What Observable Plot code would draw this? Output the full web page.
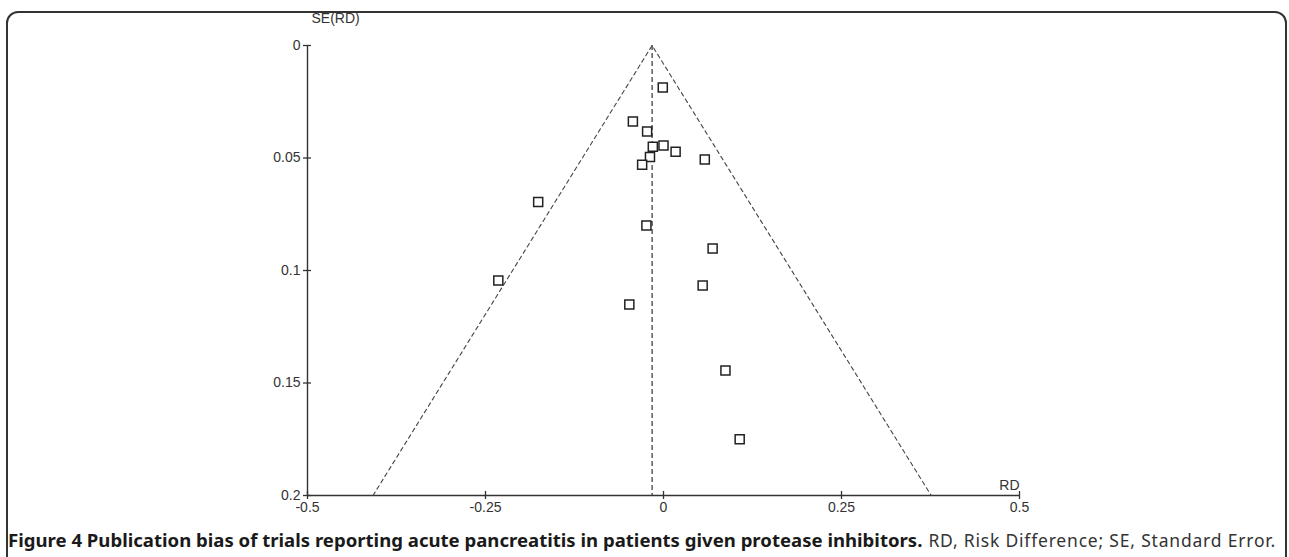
<!DOCTYPE html>
<html><head><meta charset="utf-8">
<script src="https://cdn.jsdelivr.net/npm/d3@7"></script>
<script src="https://cdn.jsdelivr.net/npm/@observablehq/plot@0.6"></script>
<style>
html,body{margin:0;padding:0;background:#fff;width:1289px;height:557px;overflow:hidden;}
#frame{position:absolute;left:6px;top:11px;width:1281px;height:640px;border:2px solid #333;border-radius:12px;box-sizing:border-box;}
#chart{position:absolute;left:0;top:0;}
#caption{position:absolute;left:0;top:520px;}
</style></head><body>
<div id="frame"></div>
<div id="chart"></div>
<svg id="caption" width="1289" height="37" xmlns="http://www.w3.org/2000/svg">
  <text id="capBold" x="8" y="27" font-family="Noto Sans, Open Sans, sans-serif" font-weight="700" font-size="17.5" fill="#1a1a1a" textLength="892" lengthAdjust="spacingAndGlyphs">Figure 4 Publication bias of trials reporting acute pancreatitis in patients given protease inhibitors.</text>
  <text id="capReg" x="1276" y="27" text-anchor="end" font-family="Noto Sans, Open Sans, sans-serif" font-weight="400" font-size="17.5" letter-spacing="0.8" fill="#333">RD, Risk Difference; SE, Standard Error.</text>
</svg>
<script>
// Study estimates (risk difference) and standard errors
const rd = [-0.001, -0.043, -0.023, -0.015, 0.000, 0.017, -0.019, -0.030, 0.058, -0.176, -0.024, -0.232, -0.048, 0.055, 0.069, 0.087, 0.107];
const se = [0.0187, 0.0338, 0.0382, 0.0450, 0.0444, 0.0472, 0.0496, 0.0530, 0.0507, 0.0696, 0.0800, 0.1044, 0.1151, 0.1067, 0.0902, 0.1444, 0.1750];
// pooled estimate and funnel (pseudo 95% limits)
const pooled = [-0.016];
const funnelRD = [-0.408, -0.016, 0.376];
const funnelSE = [0.2, 0, 0.2];
// axes
const xTicks = [-0.5, -0.25, 0, 0.25, 0.5];
const yTicks = [0, 0.05, 0.1, 0.15, 0.2];
const xDomain = [-0.5, 0.5];
const yDomain = [0, 0.2];
const yLabel = ["SE(RD)"];
const xLabel = ["RD"];

const studies = rd.map((d, i) => ({rd: d, se: se[i]}));
const funnel = funnelRD.map((d, i) => ({rd: d, se: funnelSE[i]}));
const fmt = d => String(d);
const ink = "#333";

const chart = Plot.plot({
  width: 1289,
  height: 520,
  marginLeft: 307,
  marginRight: 270,
  marginTop: 45,
  marginBottom: 25,
  x: {domain: xDomain},
  y: {domain: yDomain, reverse: true},
  style: {fontFamily: "'Liberation Sans', Arial, sans-serif", fontSize: "14px", color: ink, background: "transparent"},
  marks: [
    Plot.axisX({ticks: xTicks, tickFormat: fmt, tickSize: 4, tickPadding: 3, label: null, stroke: ink, strokeWidth: 1.3, fontSize: 14}),
    Plot.axisY({ticks: yTicks, tickFormat: fmt, tickSize: 4, tickPadding: 3, label: null, stroke: ink, strokeWidth: 1.3, fontSize: 14}),
    Plot.ruleX(xTicks, {y1: yDomain[1], y2: yDomain[1], insetTop: -4, insetBottom: 0, stroke: ink, strokeWidth: 1.3}),
    Plot.ruleY(yTicks, {x1: xDomain[0], x2: xDomain[0], insetLeft: 0, insetRight: -4, stroke: ink, strokeWidth: 1.3}),
    Plot.ruleY([yDomain[1]], {stroke: ink, strokeWidth: 1.4}),
    Plot.ruleX([xDomain[0]], {y1: yDomain[0], y2: yDomain[1], stroke: ink, strokeWidth: 1.4}),
    Plot.line(funnel, {x: "rd", y: "se", stroke: "#444", strokeWidth: 1.1, strokeDasharray: "4,3.5"}),
    Plot.ruleX(pooled, {y1: yDomain[0], y2: yDomain[1], stroke: "#444", strokeWidth: 1.3, strokeDasharray: "5,3"}),
    Plot.dot(studies, {x: "rd", y: "se", symbol: "square", r: 5.1, stroke: "#222", strokeWidth: 1.5, fill: "white"}),
    Plot.text(yLabel, {x: xDomain[0], y: yDomain[0], dx: 4, dy: -27, textAnchor: "start", fontSize: 14, fill: ink}),
    Plot.text(xLabel, {x: xDomain[1], y: yDomain[1], dy: -10, textAnchor: "end", fontSize: 14, fill: ink})
  ]
});
document.getElementById("chart").appendChild(chart);

// let the bold part of the caption fill the space left of the plain part
function fitCaption() {
  const reg = document.getElementById("capReg");
  const bold = document.getElementById("capBold");
  const start = 1276 - reg.getComputedTextLength();
  bold.setAttribute("textLength", Math.max(600, start - 6 - 8));
}
fitCaption();
if (document.fonts && document.fonts.ready) document.fonts.ready.then(fitCaption);
</script>
</body></html>
